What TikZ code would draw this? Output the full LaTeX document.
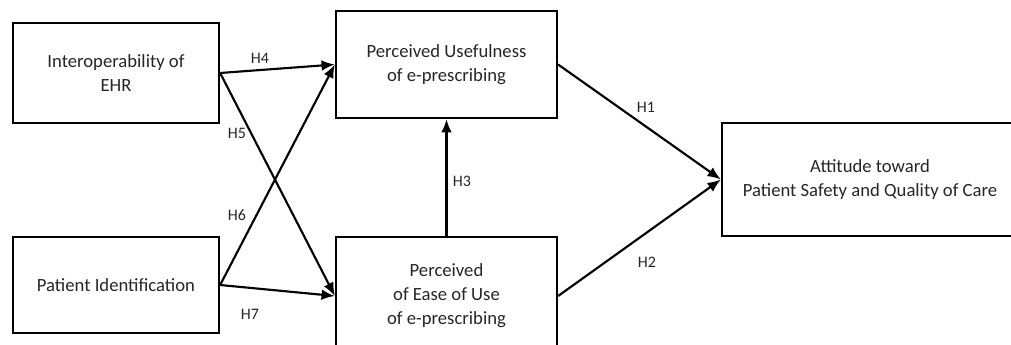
\documentclass[tikz,border=0pt]{standalone}
\usepackage{fontspec}
\setmainfont{Carlito}
\usepackage{tikz}
\usetikzlibrary{arrows.meta}

\begin{document}
\begin{tikzpicture}[x=0.75pt,y=0.75pt,yscale=-1,xscale=1,
  construct/.style={draw, line width=1.7pt, inner sep=0pt, align=center, text=black!85, font=\fontsize{14}{18}\selectfont},
  hyp/.style={line width=1.6pt, -{Latex[length=10pt,width=8pt]}},
  hlabel/.style={inner sep=0.75pt, text=black!85, font=\fontsize{12}{14}\selectfont}]
%set diagram to 1011 x 345, boxes running off the edges are cut
\useasboundingbox (0,0) rectangle (1011,345);
\clip (0,0) rectangle (1011,345);

%Shape: Rectangles
\node [construct, minimum width=154.5pt, minimum height=75pt] (ehr) at (116,73) {Interoperability of\\EHR};
\node [construct, minimum width=154.5pt, minimum height=72pt] (pid) at (116,285) {Patient Identification};
\node [construct, minimum width=165.75pt, minimum height=80.25pt] (pu) at (446.5,64.5) {Perceived Usefulness\\of e-prescribing};
\node [construct, minimum width=165.75pt, minimum height=88.5pt] (peou) at (446.5,296) {Perceived\\of Ease of Use\\of e-prescribing};
\node [construct, minimum width=222pt, minimum height=84.75pt] (att) at (870,179.5) {Attitude toward\\Patient Safety and Quality of Care};

%Straight Lines
\draw [hyp] (ehr.east) -- (pu.west);
\draw [hyp] (ehr.east) -- (peou.west);
\draw [hyp] (pid.east) -- (pu.west);
\draw [hyp] (pid.east) -- (peou.west);
\draw [hyp] (peou.north) -- (pu.south);
\draw [hyp] (pu.east) -- (att.west);
\draw [hyp] (peou.east) -- (att.west);

% Text Node
\node [hlabel] (hfour) at (260,58) {H4};
% Text Node
\node [hlabel] (hfive) at (237,133) {H5};
% Text Node
\node [hlabel] (hsix) at (237,215) {H6};
% Text Node
\node [hlabel] (hseven) at (250,314) {H7};
% Text Node
\node [hlabel] (hthree) at (462,181) {H3};
% Text Node
\node [hlabel] (hone) at (646,107) {H1};
% Text Node
\node [hlabel] (htwo) at (647,262) {H2};

\end{tikzpicture}
\end{document}
